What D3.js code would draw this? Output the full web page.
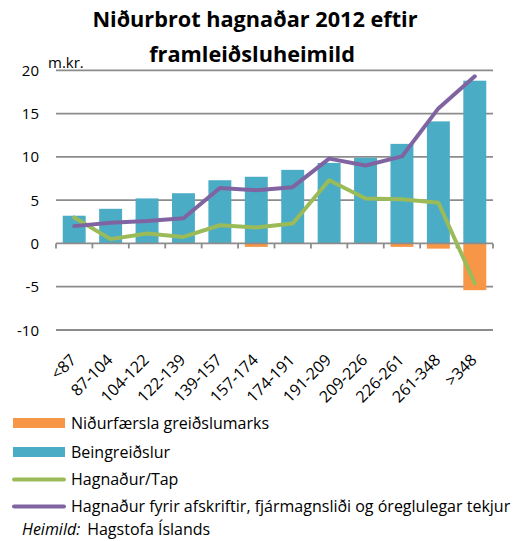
<!DOCTYPE html>
<html><head><meta charset="utf-8">
<script src="https://cdn.jsdelivr.net/npm/d3@7"></script>
<style>body{margin:0;background:#fff}svg{display:block}text{font-family:"Open Sans",Lato,sans-serif;fill:#000}</style>
</head><body><svg id="c" width="531" height="541"></svg>
<script>
const categories = ["<87","87-104","104-122","122-139","139-157","157-174","174-191","191-209","209-226","226-261","261-348",">348"];
const nidurfaersla = [0,0,0,0,0,-0.4,0,0,0,-0.4,-0.6,-5.4];
const beingreidslur = [3.2,4.0,5.2,5.8,7.3,7.7,8.5,9.3,9.9,11.5,14.1,18.8];
const hagnadur = [3.0,0.5,1.15,0.75,2.1,1.85,2.3,7.3,5.2,5.1,4.7,-4.6];
const hagnadurFyrir = [2.0,2.4,2.6,2.9,6.4,6.15,6.5,9.8,9.0,10.05,15.6,19.3];
const yTicks = [-10,-5,0,5,10,15,20];
const legendLabels = ["Niðurfærsla greiðslumarks","Beingreiðslur","Hagnaður/Tap","Hagnaður fyrir afskriftir, fjármagnsliði og óreglulegar tekjur"];
const colors = {orange:"#F79646", blue:"#4BACC6", green:"#9BBB59", purple:"#8064A2", grid:"#8c8c8c"};

const svg = d3.select("#c");
const x = d3.scaleBand().domain(categories).range([56,493]).paddingInner(0.37).paddingOuter(0.185);
const y = d3.scaleLinear().domain([-10,20]).range([330,70.3]);
const cx = c => x(c) + x.bandwidth()/2;

// title
const title = svg.append("text").attr("text-anchor","middle").style("font-weight","bold").style("font-size","21.7px");
title.append("tspan").attr("x",255).attr("y",27).text("Niðurbrot hagnaðar 2012 eftir");
title.append("tspan").attr("x",252).attr("y",62).text("framleiðsluheimild");
svg.append("text").attr("x",48).attr("y",68).style("font-size","15px").text("m.kr.");

// grid
svg.append("g").selectAll("line").data(yTicks.filter(v=>v!==0)).join("line")
  .attr("x1",56).attr("x2",493).attr("y1",d=>y(d)).attr("y2",d=>y(d))
  .attr("stroke",colors.grid).attr("stroke-width",1.8);
// y labels
svg.append("g").selectAll("text").data(yTicks).join("text")
  .attr("x",39).attr("y",d=>y(d)+5.5).attr("text-anchor","end").style("font-size","15px").text(d=>d);

// bars
svg.append("g").selectAll("rect").data(categories).join("rect")
  .attr("x",d=>x(d)).attr("width",x.bandwidth())
  .attr("y",(d,i)=>y(beingreidslur[i])).attr("height",(d,i)=>y(0)-y(beingreidslur[i]))
  .attr("fill",colors.blue);
svg.append("g").selectAll("rect").data(categories).join("rect")
  .attr("x",d=>x(d)).attr("width",x.bandwidth())
  .attr("y",y(0)).attr("height",(d,i)=>y(nidurfaersla[i])-y(0))
  .attr("fill",colors.orange);

// zero axis
const ax = svg.append("g");
ax.append("line").attr("x1",56).attr("x2",493).attr("y1",y(0)).attr("y2",y(0)).attr("stroke",colors.grid).attr("stroke-width",1.8);
const bounds = categories.map(c=>x(c)-x.step()*x.paddingInner()/2);
bounds[0]=56; bounds.push(493);
ax.selectAll("line.t").data(bounds).join("line").attr("class","t")
  .attr("x1",d=>d).attr("x2",d=>d).attr("y1",y(0)).attr("y2",y(0)+5).attr("stroke",colors.grid).attr("stroke-width",1.8);

// x labels
svg.append("g").selectAll("text").data(categories).join("text")
  .attr("text-anchor","end").style("font-size","16px")
  .attr("transform",d=>`translate(${cx(d)+3},${361}) rotate(-45)`).text(d=>d);

// lines
const line = vals => d3.line().x((d,i)=>cx(categories[i])).y(d=>y(d))(vals);
svg.append("path").attr("d",line(hagnadur)).attr("fill","none").attr("stroke",colors.green).attr("stroke-width",4).attr("stroke-linejoin","round").attr("stroke-linecap","round");
svg.append("path").attr("d",line(hagnadurFyrir)).attr("fill","none").attr("stroke",colors.purple).attr("stroke-width",4).attr("stroke-linejoin","round").attr("stroke-linecap","round");

// legend
const lg = svg.append("g");
const ly = [423,452,479.5,506.5];
lg.append("rect").attr("x",13).attr("y",ly[0]-5).attr("width",52).attr("height",10).attr("fill",colors.orange);
lg.append("rect").attr("x",13).attr("y",ly[1]-5).attr("width",52).attr("height",10).attr("fill",colors.blue);
lg.append("line").attr("x1",14).attr("x2",64).attr("y1",ly[2]).attr("y2",ly[2]).attr("stroke",colors.green).attr("stroke-width",4).attr("stroke-linecap","round");
lg.append("line").attr("x1",14).attr("x2",64).attr("y1",ly[3]).attr("y2",ly[3]).attr("stroke",colors.purple).attr("stroke-width",4).attr("stroke-linecap","round");
lg.selectAll("text").data(legendLabels).join("text").attr("x",71).attr("y",(d,i)=>ly[i]+5.5).style("font-size","16px").text(d=>d);
const src = svg.append("text").attr("x",22).attr("y",535).style("font-size","16px");
src.append("tspan").style("font-style","italic").text("Heimild:");
src.append("tspan").attr("dx",7).text("Hagstofa Íslands");
</script></body></html>
